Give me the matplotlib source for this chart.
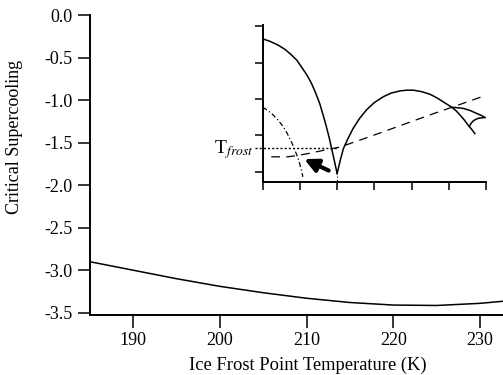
import numpy as np
import matplotlib
matplotlib.use('Agg')
import matplotlib.pyplot as plt

plt.rcParams['font.family'] = ['Liberation Serif', 'DejaVu Serif']
plt.rcParams['mathtext.fontset'] = 'stix'

# main curve: critical supercooling vs ice frost point temperature
temp_K = [185.0, 190, 195, 200, 205, 210, 215, 220, 225, 230, 232.7]
supercool = [-2.90, -3.00, -3.10, -3.19, -3.265, -3.33, -3.38, -3.41, -3.415, -3.39, -3.365]

# inset curves (arbitrary units, inset has no labels)
solid1_x = [0.0, 0.2, 0.41, 0.6, 0.77, 0.92, 1.04, 1.18, 1.31, 1.42, 1.53, 1.62, 1.71, 1.79, 1.86, 1.93, 2.0]
solid1_y = [3.65, 3.58, 3.48, 3.36, 3.21, 3.06, 2.88, 2.67, 2.43, 2.17, 1.88, 1.57, 1.24, 0.92, 0.6, 0.28, -0.05]
solid2_x = [2.0, 2.08, 2.17, 2.3, 2.43, 2.6, 2.79, 3.0, 3.24, 3.45, 3.69, 3.87, 4.05, 4.27, 4.49, 4.68, 4.85, 5.08, 5.2, 5.3, 5.41, 5.52, 5.61, 5.70]
solid2_y = [-0.05, 0.3, 0.64, 0.93, 1.19, 1.46, 1.7, 1.9, 2.06, 2.16, 2.22, 2.24, 2.24, 2.2, 2.13, 2.03, 1.92, 1.77, 1.67, 1.56, 1.43, 1.28, 1.17, 1.05]
branch_b_x = [5.08, 5.2, 5.39, 5.58, 5.75, 5.87, 5.97]
branch_b_y = [1.77, 1.76, 1.74, 1.68, 1.6, 1.55, 1.49]
branch_c_x = [5.55, 5.6, 5.66, 5.73, 5.8, 5.9, 5.97]
branch_c_y = [1.24, 1.33, 1.4, 1.44, 1.47, 1.48, 1.49]
dash_x = [0.23, 0.68, 0.95, 1.22, 1.5, 1.8, 2.08, 2.7, 3.6, 4.49, 5.39, 5.97]
dash_y = [0.41, 0.41, 0.45, 0.5, 0.56, 0.62, 0.68, 0.9, 1.23, 1.56, 1.88, 2.09]
dashdot_x = [0.0, 0.14, 0.28, 0.42, 0.55, 0.66, 0.77, 0.84, 0.9, 0.95, 0.99, 1.04, 1.08]
dashdot_y = [1.77, 1.68, 1.56, 1.41, 1.24, 1.05, 0.82, 0.66, 0.5, 0.37, 0.23, 0.05, -0.14]
t_frost = 0.64
dip_x = 2.0

fig = plt.figure(figsize=(5.03, 3.75), dpi=100)
ax = fig.add_axes([90/503, 60/375, 413/503, 300/375])
ax.plot(temp_K, supercool, color='k', lw=1.1)
ax.set_xlim(185.04, 232.65)
ax.set_ylim(-3.527, 0.0)
ax.set_xticks([190, 200, 210, 220, 230])
ax.set_yticks(np.arange(-3.5, 0.01, 0.5))
ax.set_yticklabels(['%.1f' % v for v in np.arange(-3.5, 0.01, 0.5)])
for s in ['top', 'right']:
    ax.spines[s].set_visible(False)
for s in ['left', 'bottom']:
    ax.spines[s].set_linewidth(1.4)
ax.tick_params(direction='out', length=9, width=1.1, labelsize=13, pad=3.5)
fig.text(15/503, 1-137/375, 'Critical Supercooling', rotation=90, ha='center', va='center', fontsize=13)
fig.text(308/503, 1-365/375, 'Ice Frost Point Temperature (K)', ha='center', va='center', fontsize=13.3)

# inset
ins = fig.add_axes([262.7/503, 1-182.3/375, 223.3/503, 157.3/375])
ins.patch.set_alpha(0)
ins.set_xlim(0, 6)
ins.set_ylim(-0.29, 4.03)
ins.set_xticks(range(7))
ins.set_yticks(range(5))
ins.set_xticklabels([])
ins.set_yticklabels([])
for s in ['top', 'right']:
    ins.spines[s].set_visible(False)
for s in ['left', 'bottom']:
    ins.spines[s].set_linewidth(1.4)
ins.tick_params(direction='out', length=6, width=1.1)

ins.plot(solid1_x, solid1_y, color='k', lw=1.1)
ins.plot(solid2_x, solid2_y, color='k', lw=1.1)
ins.plot(branch_b_x, branch_b_y, color='k', lw=1.1)
ins.plot(branch_c_x, branch_c_y, color='k', lw=1.1)
ins.plot(dash_x, dash_y, color='k', lw=0.9, linestyle=(0, (7, 5)))
ins.plot(dashdot_x, dashdot_y, color='k', lw=0.9, linestyle=(0, (4, 2, 1, 2)))
ins.plot([-0.22, dip_x], [t_frost, t_frost], color='k', lw=1.0, linestyle=(0, (1.5, 1.5)), clip_on=False)
ins.plot([dip_x, dip_x], [-0.12, -0.29], color='k', lw=0.8, linestyle=(0, (1, 2)), clip_on=False)
ins.text(-0.25, 0.52, 'T$_{frost}$', ha='right', va='baseline', fontsize=14)
ins.annotate('', xy=(1.05, 0.38), xytext=(1.84, 0.0),
             arrowprops=dict(arrowstyle='-|>', lw=3, color='k', mutation_scale=20))

fig.savefig('out.png', dpi=100)
